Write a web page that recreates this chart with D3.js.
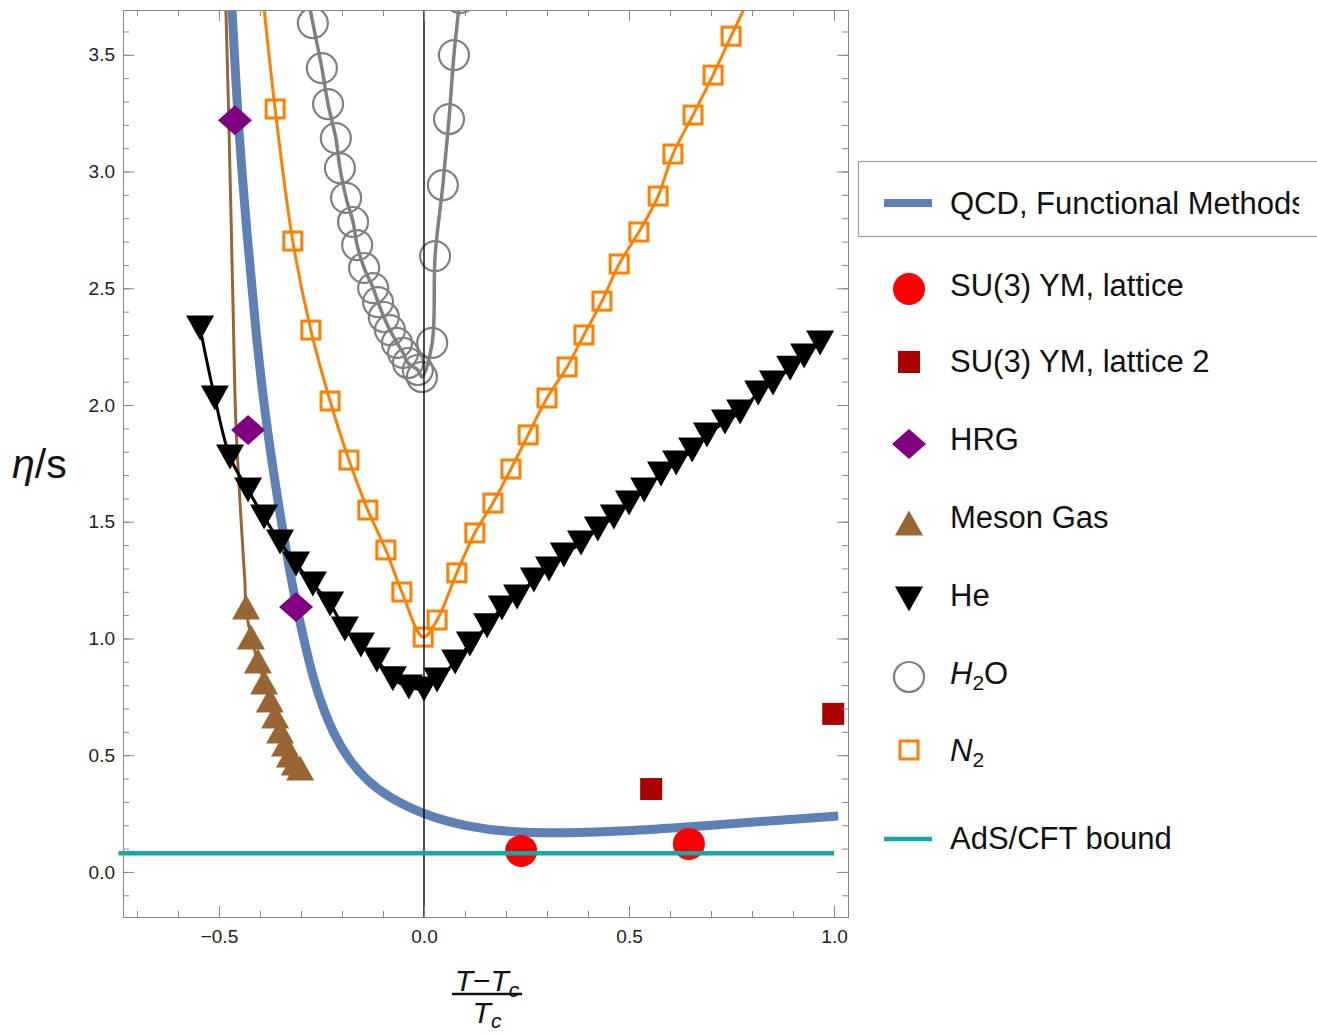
<!DOCTYPE html>
<html>
<head>
<meta charset="utf-8">
<script src="https://cdn.jsdelivr.net/npm/d3@7"></script>
<style>
body { margin: 0; background: #fff; }
svg { display: block; font-family: "Liberation Sans", Arial, sans-serif; }
</style>
</head>
<body>
<svg width="1317" height="1035"></svg>
<script>
// ---- data: [ (T-Tc)/Tc , eta/s ] ----
var qcdCurve = [[-0.472,3.82],[-0.468,3.692],[-0.454,3.221],[-0.432,2.737],[-0.410,2.308],[-0.385,1.914],
  [-0.344,1.452],[-0.315,1.165],[-0.278,0.878],[-0.254,0.737],[-0.220,0.587],[-0.183,0.480],[-0.141,0.394],
  [-0.088,0.321],[0.000,0.244],[0.107,0.193],[0.212,0.170],[0.332,0.166],[0.507,0.176],[0.685,0.198],
  [0.863,0.221],[1.010,0.240]];

var latticePts = [[0.237,0.090],[0.646,0.120]];
var lattice2Pts = [[0.554,0.355],[0.998,0.677]];
var hrgPts = [[-0.461,3.22],[-0.429,1.893],[-0.312,1.135]];

var mesonPts = [[-0.434,1.135],[-0.422,1.006],[-0.405,0.904],[-0.390,0.814],[-0.376,0.737],[-0.363,0.668],
  [-0.351,0.604],[-0.339,0.548],[-0.327,0.501],[-0.315,0.467],[-0.302,0.445]];
var mesonCurve = [[-0.485,3.75],[-0.483,3.69],[-0.476,3.22],[-0.466,2.45],[-0.459,1.936],[-0.449,1.593],
  [-0.437,1.25]].concat(mesonPts);

var hePts = [[-0.546,2.330],[-0.510,2.030],[-0.473,1.777],[-0.429,1.636],[-0.390,1.520],[-0.351,1.413],
  [-0.312,1.319],[-0.271,1.233],[-0.229,1.148],[-0.193,1.041],[-0.154,0.972],[-0.115,0.908],[-0.076,0.827],
  [-0.037,0.792],[0.000,0.784],[0.032,0.822],[0.076,0.899],[0.112,0.976],[0.154,1.054],[0.190,1.131],
  [0.227,1.178],[0.268,1.251],[0.305,1.298],[0.341,1.358],[0.383,1.409],[0.424,1.469],[0.463,1.520],
  [0.500,1.580],[0.537,1.636],[0.578,1.705],[0.615,1.752],[0.654,1.807],[0.690,1.872],[0.734,1.927],
  [0.771,1.970],[0.815,2.051],[0.851,2.094],[0.893,2.158],[0.927,2.210],[0.966,2.266]];

var h2oPts = [[-0.271,3.636],[-0.249,3.443],[-0.234,3.289],[-0.215,3.143],[-0.205,3.015],[-0.190,2.887],
  [-0.173,2.784],[-0.163,2.685],[-0.146,2.587],[-0.124,2.501],[-0.112,2.441],[-0.098,2.377],[-0.083,2.321],
  [-0.066,2.266],[-0.051,2.223],[-0.039,2.180],[-0.015,2.150],[-0.005,2.120],[0.020,2.266],[0.027,2.638],
  [0.046,2.942],[0.061,3.225],[0.073,3.499],[0.088,3.743]];
var h2oCurve = [[-0.284,3.75]].concat(h2oPts);

var n2Pts = [[-0.363,3.268],[-0.320,2.702],[-0.276,2.321],[-0.229,2.017],[-0.183,1.764],[-0.137,1.550],
  [-0.093,1.379],[-0.054,1.199],[-0.002,1.006],[0.032,1.079],[0.080,1.281],[0.124,1.452],[0.168,1.580],
  [0.212,1.726],[0.254,1.872],[0.300,2.030],[0.349,2.163],[0.390,2.300],[0.434,2.445],[0.476,2.604],
  [0.524,2.741],[0.571,2.895],[0.607,3.075],[0.656,3.242],[0.705,3.413],[0.749,3.580]];
var n2Curve = [[-0.393,3.75]].concat(n2Pts, [[0.795,3.75]]);

var adsBound = [[-0.745,0.0796],[1.0,0.0796]];

var xMajor = [-0.5, 0, 0.5, 1.0];
var yMajor = [0, 0.5, 1.0, 1.5, 2.0, 2.5, 3.0, 3.5];
var xMinor = d3.range(-7, 11).map(function(d) { return d / 10; });
var yMinor = d3.range(-1, 37).map(function(d) { return d / 10; });

var legendNames = ["QCD, Functional Methods", "SU(3) YM, lattice", "SU(3) YM, lattice 2", "HRG",
  "Meson Gas", "He", "H2O", "N2", "AdS/CFT bound"];

// ---- setup ----
var svg = d3.select("svg");
var plotL = 123, plotR = 848, plotT = 10, plotB = 917;

var x = d3.scaleLinear().domain([-0.734, 1.034]).range([plotL, plotR]);
var y = d3.scaleLinear().domain([-0.193, 3.692]).range([plotB, plotT]);

var blue = "#5e81b5", red = "#ff0000", darkRed = "#aa0000", purple = "#800080",
    brown = "#996633", grey = "#808080", orange = "#ff8000", teal = "#12a8a3";

svg.append("rect").attr("width", 1317).attr("height", 1035).attr("fill", "#fff");

var defs = svg.append("defs");
defs.append("clipPath").attr("id", "plot")
  .append("rect").attr("x", plotL).attr("y", plotT).attr("width", plotR - plotL).attr("height", plotB - plotT);

var line = d3.line()
    .x(function(d) { return x(d[0]); })
    .y(function(d) { return y(d[1]); })
    .curve(d3.curveCatmullRom.alpha(0.5));

var smooth = d3.line()
    .x(function(d) { return x(d[0]); })
    .y(function(d) { return y(d[1]); })
    .curve(d3.curveBasis);

var plot = svg.append("g").attr("clip-path", "url(#plot)");

// curves
plot.append("path").datum(qcdCurve).attr("d", smooth)
    .attr("fill", "none").attr("stroke", blue).attr("stroke-width", 9);
plot.append("path").datum(mesonCurve).attr("d", line)
    .attr("fill", "none").attr("stroke", brown).attr("stroke-width", 3);
plot.append("path").datum(hePts).attr("d", line)
    .attr("fill", "none").attr("stroke", "#000").attr("stroke-width", 3);
plot.append("path").datum(h2oCurve).attr("d", line)
    .attr("fill", "none").attr("stroke", grey).attr("stroke-width", 3.5);
plot.append("path").datum(n2Curve).attr("d", line)
    .attr("fill", "none").attr("stroke", orange).attr("stroke-width", 3);

// markers
var triUp = "M0,-12.5L14,12.5L-14,12.5Z";
var triDown = "M-14,-12.5L14,-12.5L0,12.5Z";
var diamond = "M0,-15L17,0L0,15L-17,0Z";

function place(d) { return "translate(" + x(d[0]) + "," + y(d[1]) + ")"; }

plot.selectAll(".meson").data(mesonPts).enter().append("path")
    .attr("class", "meson").attr("d", triUp).attr("transform", place).attr("fill", brown);

plot.selectAll(".he").data(hePts).enter().append("path")
    .attr("class", "he").attr("d", triDown).attr("transform", place).attr("fill", "#000");

plot.selectAll(".h2o").data(h2oPts).enter().append("circle")
    .attr("class", "h2o").attr("cx", function(d) { return x(d[0]); }).attr("cy", function(d) { return y(d[1]); })
    .attr("r", 15).attr("fill", "none").attr("stroke", grey).attr("stroke-width", 2.2);

plot.selectAll(".n2").data(n2Pts).enter().append("rect")
    .attr("class", "n2").attr("x", function(d) { return x(d[0]) - 9; }).attr("y", function(d) { return y(d[1]) - 9; })
    .attr("width", 18).attr("height", 18).attr("fill", "none").attr("stroke", orange).attr("stroke-width", 3);

plot.selectAll(".hrg").data(hrgPts).enter().append("path")
    .attr("class", "hrg").attr("d", diamond).attr("transform", place).attr("fill", purple);

plot.selectAll(".lat").data(latticePts).enter().append("circle")
    .attr("class", "lat").attr("cx", function(d) { return x(d[0]); }).attr("cy", function(d) { return y(d[1]); })
    .attr("r", 16).attr("fill", red);

plot.selectAll(".lat2").data(lattice2Pts).enter().append("rect")
    .attr("class", "lat2").attr("x", function(d) { return x(d[0]) - 11; }).attr("y", function(d) { return y(d[1]) - 11; })
    .attr("width", 22).attr("height", 22).attr("fill", darkRed);

// vertical line at Tc
svg.append("line")
    .attr("x1", x(0)).attr("x2", x(0)).attr("y1", plotT).attr("y2", plotB)
    .attr("stroke", "#000").attr("stroke-width", 1.4);

// AdS/CFT bound
svg.append("path").datum(adsBound).attr("d", d3.line().x(function(d) { return x(d[0]); }).y(function(d) { return y(d[1]); }))
    .attr("stroke", teal).attr("stroke-width", 4.5).attr("fill", "none");

// ---- frame and ticks ----
var frameColor = "#888";
function frameAxis(axis, tx, ty) {
  var g = svg.append("g").attr("transform", "translate(" + tx + "," + ty + ")").call(axis);
  g.attr("font-family", "Liberation Sans, Arial, sans-serif").attr("font-size", 19);
  g.select(".domain").attr("stroke", frameColor);
  g.selectAll(".tick line").attr("stroke", frameColor);
  g.selectAll("text").attr("fill", "#222");
  return g;
}
var fmt = d3.format(".1f");

frameAxis(d3.axisBottom(x).tickValues(xMinor).tickSize(-6).tickFormat(""), 0, plotB);
frameAxis(d3.axisBottom(x).tickValues(xMajor).tickSize(-11).tickPadding(13).tickFormat(fmt), 0, plotB);
frameAxis(d3.axisTop(x).tickValues(xMinor).tickSize(-6).tickFormat(""), 0, plotT);
frameAxis(d3.axisTop(x).tickValues(xMajor).tickSize(-11).tickFormat(""), 0, plotT);
frameAxis(d3.axisLeft(y).tickValues(yMinor).tickSize(-6).tickFormat(""), plotL, 0);
frameAxis(d3.axisLeft(y).tickValues(yMajor).tickSize(-11).tickPadding(8).tickFormat(fmt), plotL, 0);
frameAxis(d3.axisRight(y).tickValues(yMinor).tickSize(-6).tickFormat(""), plotR, 0);
frameAxis(d3.axisRight(y).tickValues(yMajor).tickSize(-11).tickFormat(""), plotR, 0);

// axis labels
var yl = svg.append("text").attr("x", 12).attr("y", 478).attr("font-size", 41).attr("fill", "#111");
yl.append("tspan").attr("font-style", "italic").text("η");
yl.append("tspan").text("/s");

var xl = svg.append("text").attr("x", 487).attr("y", 991).attr("text-anchor", "middle").attr("font-size", 30).attr("fill", "#111");
xl.append("tspan").attr("font-style", "italic").text("T");
xl.append("tspan").text("−");
xl.append("tspan").attr("font-style", "italic").text("T");
xl.append("tspan").attr("font-style", "italic").attr("font-size", 21).attr("dy", 6).text("c");
svg.append("line").attr("x1", 452).attr("x2", 522).attr("y1", 994).attr("y2", 994)
    .attr("stroke", "#111").attr("stroke-width", 2.5);
var xd = svg.append("text").attr("x", 487).attr("y", 1023).attr("text-anchor", "middle").attr("font-size", 30).attr("fill", "#111");
xd.append("tspan").attr("font-style", "italic").text("T");
xd.append("tspan").attr("font-style", "italic").attr("font-size", 21).attr("dy", 5).text("c");

// ---- legend ----
defs.append("clipPath").attr("id", "legclip")
  .append("rect").attr("x", 850).attr("y", 150).attr("width", 449).attr("height", 100);

svg.append("rect").attr("x", 858.5).attr("y", 161.5).attr("width", 480).attr("height", 75)
    .attr("fill", "#fff").attr("stroke", "#a0a0a0").attr("stroke-width", 1.2);

var legY = [203, 285, 361, 439, 517, 595, 673, 750, 838];
var symX = 909, textX = 950;

svg.append("line").attr("x1", 884).attr("x2", 932).attr("y1", legY[0]).attr("y2", legY[0])
    .attr("stroke", blue).attr("stroke-width", 8);
svg.append("circle").attr("cx", symX).attr("cy", legY[1] + 4).attr("r", 16).attr("fill", red);
svg.append("rect").attr("x", symX - 11).attr("y", legY[2] - 10).attr("width", 22).attr("height", 22).attr("fill", darkRed);
svg.append("path").attr("d", diamond).attr("transform", "translate(" + symX + "," + (legY[3] + 5) + ")").attr("fill", purple);
svg.append("path").attr("d", triUp).attr("transform", "translate(" + symX + "," + (legY[4] + 6) + ")").attr("fill", brown);
svg.append("path").attr("d", triDown).attr("transform", "translate(" + symX + "," + (legY[5] + 4) + ")").attr("fill", "#000");
svg.append("circle").attr("cx", symX).attr("cy", legY[6] + 4).attr("r", 15).attr("fill", "none")
    .attr("stroke", grey).attr("stroke-width", 2.2);
svg.append("rect").attr("x", symX - 9).attr("y", legY[7] - 9).attr("width", 18).attr("height", 18)
    .attr("fill", "none").attr("stroke", orange).attr("stroke-width", 3);
svg.append("line").attr("x1", 884).attr("x2", 932).attr("y1", legY[8] + 1).attr("y2", legY[8] + 1)
    .attr("stroke", teal).attr("stroke-width", 4.5);

legendNames.forEach(function(name, i) {
  var t = svg.append("text").attr("x", textX).attr("y", legY[i] + 11).attr("font-size", 31).attr("fill", "#111");
  if (i === 0) t.attr("clip-path", "url(#legclip)");
  if (name === "H2O") {
    t.append("tspan").attr("font-style", "italic").text("H");
    t.append("tspan").attr("font-size", 21).attr("dy", 6).text("2");
    t.append("tspan").attr("dy", -6).text("O");
  } else if (name === "N2") {
    t.append("tspan").attr("font-style", "italic").text("N");
    t.append("tspan").attr("font-size", 21).attr("dy", 6).text("2");
  } else {
    t.text(name);
  }
});
</script>
</body>
</html>
